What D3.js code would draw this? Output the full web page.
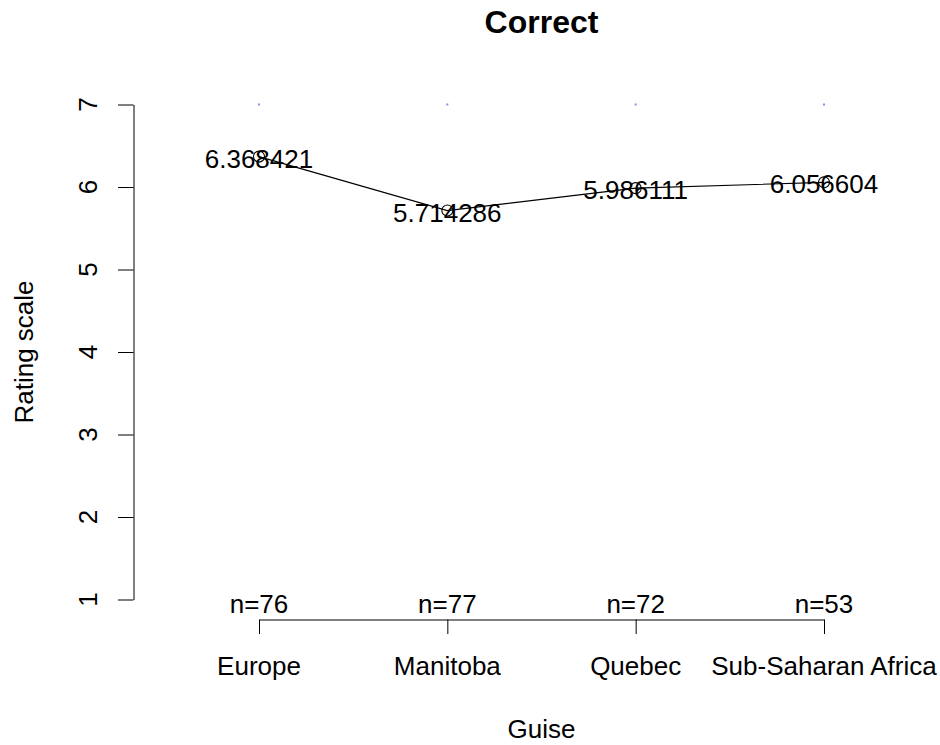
<!DOCTYPE html>
<html>
<head>
<meta charset="utf-8">
<script src="https://cdn.jsdelivr.net/npm/d3@7"></script>
<style>
  html, body { margin: 0; padding: 0; background: #ffffff; }
  svg { display: block; font-family: "Liberation Sans", Arial, sans-serif; }
</style>
</head>
<body>
<script>
// ---- data ----
const categories = ["Europe", "Manitoba", "Quebec", "Sub-Saharan Africa"];
const means = [6.368421, 5.714286, 5.986111, 6.056604];
const counts = [76, 77, 72, 53];
const meanLabels = ["6.368421", "5.714286", "5.986111", "6.056604"];
const yTicks = [1, 2, 3, 4, 5, 6, 7];
const ciMarks = [7, 7, 7, 7];
const title = "Correct";
const xTitle = "Guise";
const yTitle = "Rating scale";

const W = 940, H = 745;
const FS = 26;

const svg = d3.select("body").append("svg")
  .attr("width", W).attr("height", H);

const x = d3.scalePoint().domain(categories).range([259, 824]).padding(0);
const y = d3.scaleLinear().domain([1, 7]).range([599.5, 104.5]);

// y axis
const yAxis = d3.axisLeft(y).tickValues(yTicks).tickSize(15.5).tickSizeOuter(0).tickFormat("");
const gy = svg.append("g").attr("transform", "translate(133.5,0)").call(yAxis);
gy.selectAll("path, line").attr("stroke", "#000").attr("stroke-width", 1);
svg.append("g").selectAll("text").data(yTicks).join("text")
  .attr("transform", d => `translate(97,${y(d)}) rotate(-90)`)
  .attr("text-anchor", "middle")
  .attr("font-size", FS)
  .attr("fill", "#000")
  .text(d => d);

// x axis
const xAxis = d3.axisBottom(x).tickSize(14.5).tickSizeOuter(0).tickFormat("");
const gx = svg.append("g").attr("transform", "translate(0,619.5)").call(xAxis);
gx.selectAll("path, line").attr("stroke", "#000").attr("stroke-width", 1);
svg.append("g").selectAll("text").data(categories).join("text")
  .attr("x", d => x(d)).attr("y", 675)
  .attr("text-anchor", "middle")
  .attr("font-size", FS)
  .attr("fill", "#000")
  .text(d => d);

// n labels
svg.append("g").selectAll("text").data(categories).join("text")
  .attr("x", d => x(d)).attr("y", 613)
  .attr("text-anchor", "middle")
  .attr("font-size", FS)
  .attr("fill", "#000")
  .text((d, i) => "n=" + counts[i]);

// CI marks (tiny blue)
svg.append("g").selectAll("rect").data(categories).join("rect")
  .attr("x", d => x(d) - 1).attr("y", (d, i) => y(ciMarks[i]) - 1)
  .attr("width", 2).attr("height", 2)
  .attr("fill", "#8a8aff");

// mean line
const line = d3.line().x((d, i) => x(categories[i])).y(d => y(d));
svg.append("path").datum(means)
  .attr("d", line)
  .attr("fill", "none").attr("stroke", "#000").attr("stroke-width", 1.1);

// mean points
svg.append("g").selectAll("circle").data(means).join("circle")
  .attr("cx", (d, i) => x(categories[i])).attr("cy", d => y(d))
  .attr("r", 5.5).attr("fill", "none").attr("stroke", "#000").attr("stroke-width", 1.1);

// mean labels
svg.append("g").selectAll("text").data(means).join("text")
  .attr("x", (d, i) => x(categories[i])).attr("y", d => y(d) + 11)
  .attr("text-anchor", "middle")
  .attr("font-size", FS)
  .attr("fill", "#000")
  .text((d, i) => meanLabels[i]);

// titles
svg.append("text").attr("x", 541.5).attr("y", 33)
  .attr("text-anchor", "middle").attr("font-size", 32).attr("font-weight", "bold")
  .attr("fill", "#000").text(title);
svg.append("text").attr("x", 541.5).attr("y", 738)
  .attr("text-anchor", "middle").attr("font-size", FS)
  .attr("fill", "#000").text(xTitle);
svg.append("text").attr("transform", "translate(33,352) rotate(-90)")
  .attr("text-anchor", "middle").attr("font-size", FS)
  .attr("fill", "#000").text(yTitle);
</script>
</body>
</html>
